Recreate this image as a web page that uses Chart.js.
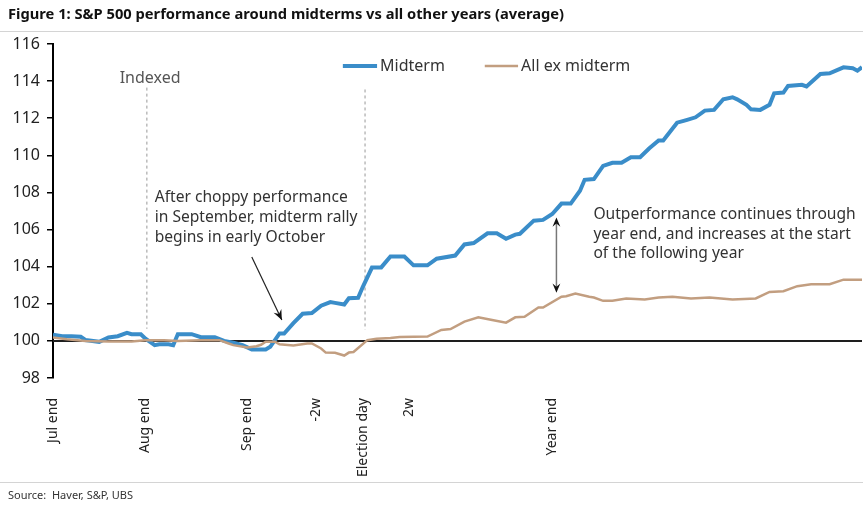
<!DOCTYPE html>
<html>
<head>
<meta charset="utf-8">
<script src="https://cdn.jsdelivr.net/npm/chart.js@4.4.1/dist/chart.umd.min.js"></script>
<style>
  body { margin: 0; background: #fff; font-family: "Noto Sans", sans-serif; }
  #wrap { position: relative; width: 863px; height: 514px; overflow: hidden; }
  #title { position: absolute; left: 8px; top: 3px; font-weight: bold; font-size: 14.7px; color: #111; white-space: nowrap; }
  #sepTop { position: absolute; left: 0; top: 31px; width: 863px; height: 0; border-top: 1.5px solid #d4d4d4; }
  #sepBot { position: absolute; left: 0; top: 482px; width: 863px; height: 0; border-top: 1.5px solid #d4d4d4; }
  #source { position: absolute; left: 8px; top: 487px; font-size: 11px; color: #333; white-space: pre; }
  canvas { position: absolute; left: 0; top: 0; }
</style>
</head>
<body>
<div id="wrap">
  <canvas id="myChart" width="863" height="514"></canvas>
  <div id="title">Figure 1: S&amp;P 500 performance around midterms vs all other years (average)</div>
  <div id="sepTop"></div>
  <div id="sepBot"></div>
  <div id="source">Source:  Haver, S&amp;P, UBS</div>
</div>
<script>
// trading days counted from end of July
const midDays = [0,2,4,6,7,10,12,14,16,17,19,20,22,23,25,26,27,29,30,32,35,37,39,41,43,46,47,49,50,52,54,56,58,60,61,63,64,66,67,69,71,73,76,78,81,83,87,89,91,94,96,98,100,101,104,106,108,110,112,114,115,117,119,121,123,125,127,129,131,132,135,137,139,141,143,145,147,148,150,151,153,155,156,158,159,162,163,166,168,171,173,174,175];
const midValues = [100.33,100.25,100.25,100.22,100.05,99.95,100.18,100.25,100.43,100.36,100.36,100.12,99.77,99.82,99.82,99.77,100.36,100.36,100.36,100.2,100.2,100.0,99.9,99.77,99.54,99.54,99.68,100.4,100.4,100.96,101.46,101.5,101.9,102.09,102.05,101.96,102.3,102.32,102.9,103.95,103.96,104.55,104.55,104.07,104.07,104.43,104.6,105.2,105.27,105.8,105.8,105.5,105.73,105.77,106.48,106.52,106.84,107.4,107.4,108.09,108.68,108.72,109.43,109.6,109.6,109.9,109.9,110.38,110.8,110.8,111.76,111.9,112.05,112.41,112.45,113.02,113.13,113.02,112.72,112.48,112.45,112.72,113.34,113.38,113.74,113.8,113.71,114.38,114.42,114.74,114.69,114.56,114.75];

const exDays = [0,3,7,12,17,20,24,27,32,36,38,39,42,44,45,46,48,49,52,55,56,58,59,61,63,64,65,68,70,73,75,81,84,86,89,92,95,98,100,102,105,106,110,111,113,116,117,119,121,124,128,131,134,138,142,147,152,155,158,161,164,168,171,175];
const exValues = [100.18,100.09,100.0,99.97,99.97,100.04,100.04,100.0,100.04,100.04,99.86,99.77,99.64,99.71,99.79,99.96,99.96,99.82,99.75,99.86,99.86,99.59,99.37,99.36,99.21,99.37,99.4,100.04,100.12,100.16,100.21,100.23,100.59,100.64,101.04,101.27,101.13,100.98,101.27,101.3,101.8,101.8,102.38,102.41,102.55,102.38,102.34,102.16,102.16,102.29,102.23,102.34,102.38,102.29,102.34,102.23,102.29,102.64,102.68,102.95,103.05,103.05,103.3,103.3];

const tickDays = [0, 20, 42, 57, 67, 77, 108];
const tickLabels = ["Jul end", "Aug end", "Sep end", "-2w", "Election day", "2w", "Year end"];

const blue = "#3a8dc9";
const brown = "#c29e80";
const font = "Noto Sans";

// helper: data coords -> pixels
function px(chart, d, v) {
  return [chart.scales.x.getPixelForValue(d), chart.scales.y.getPixelForValue(v)];
}

function arrowHead(ctx, x1, y1, x2, y2, len) {
  const a = Math.atan2(y2 - y1, x2 - x1);
  ctx.beginPath();
  ctx.moveTo(x2, y2);
  ctx.lineTo(x2 - len * Math.cos(a - 0.4), y2 - len * Math.sin(a - 0.4));
  ctx.lineTo(x2 - len * 0.6 * Math.cos(a), y2 - len * 0.6 * Math.sin(a));
  ctx.lineTo(x2 - len * Math.cos(a + 0.4), y2 - len * Math.sin(a + 0.4));
  ctx.closePath();
  ctx.fill();
}

const notes = {
  id: "notes",
  beforeDatasetsDraw(chart) {
    const { ctx, chartArea } = chart;
    ctx.save();
    // base line at 100
    const y100 = chart.scales.y.getPixelForValue(100);
    ctx.strokeStyle = "#1e1e1e";
    ctx.lineWidth = 2;
    ctx.beginPath();
    ctx.moveTo(chartArea.left, y100);
    ctx.lineTo(chartArea.right, y100);
    ctx.stroke();
    // dotted markers
    ctx.setLineDash([3, 3]);
    ctx.strokeStyle = "#aaa";
    ctx.lineWidth = 1.2;
    [[20.3, 113.65, 100.65], [67.5, 113.55, 100.6]].forEach(m => {
      const [x, y1] = px(chart, m[0], m[1]);
      const y2 = chart.scales.y.getPixelForValue(m[2]);
      ctx.beginPath();
      ctx.moveTo(x, y1);
      ctx.lineTo(x, y2);
      ctx.stroke();
    });
    ctx.restore();
  },
  afterDatasetsDraw(chart) {
    const { ctx } = chart;
    ctx.save();
    ctx.font = "16px '" + font + "'";
    ctx.textBaseline = "middle";

    // "Indexed"
    ctx.fillStyle = "#555";
    ctx.textAlign = "center";
    let [x, y] = px(chart, 21, 114.17);
    ctx.fillText("Indexed", x, y);

    // notes
    ctx.font = "15.6px '" + font + "'";
    ctx.fillStyle = "#333";
    ctx.textAlign = "left";
    [x, y] = px(chart, 22, 107.7);
    ["After choppy performance", "in September, midterm rally", "begins in early October"]
      .forEach((t, i) => ctx.fillText(t, x, y + i * 20));
    [x, y] = px(chart, 116.9, 106.8);
    ["Outperformance continues through", "year end, and increases at the start", "of the following year"]
      .forEach((t, i) => ctx.fillText(t, x, y + i * 19.5));

    // arrow to October rally
    ctx.strokeStyle = "#222";
    ctx.fillStyle = "#111";
    ctx.lineWidth = 1.2;
    const [ax1, ay1] = px(chart, 43, 104.52);
    const [ax2, ay2] = px(chart, 49.5, 101.13);
    ctx.beginPath();
    ctx.moveTo(ax1, ay1);
    ctx.lineTo(ax2, ay2);
    ctx.stroke();
    arrowHead(ctx, ax1, ay1, ax2, ay2, 11);

    // double arrow at year end
    const [bx, by1] = px(chart, 108.9, 106.65);
    const by2 = chart.scales.y.getPixelForValue(102.6);
    ctx.strokeStyle = "#777";
    ctx.lineWidth = 1.5;
    ctx.beginPath();
    ctx.moveTo(bx, by1 + 4);
    ctx.lineTo(bx, by2 - 4);
    ctx.stroke();
    arrowHead(ctx, bx, by2, bx, by1, 10);
    arrowHead(ctx, bx, by1, bx, by2, 10);

    // legend
    ctx.font = "16px '" + font + "'";
    ctx.lineWidth = 4;
    ctx.strokeStyle = blue;
    let [lx1, ly] = px(chart, 62.7, 114.81);
    let [lx2] = px(chart, 70.1, 114.81);
    ctx.beginPath(); ctx.moveTo(lx1, ly); ctx.lineTo(lx2, ly); ctx.stroke();
    ctx.fillStyle = "#333";
    ctx.fillText("Midterm", lx2 + 3, ly);
    ctx.lineWidth = 2.5;
    ctx.strokeStyle = brown;
    [lx1] = px(chart, 93.4, 114.81);
    [lx2] = px(chart, 100.6, 114.81);
    ctx.beginPath(); ctx.moveTo(lx1, ly); ctx.lineTo(lx2, ly); ctx.stroke();
    ctx.fillText("All ex midterm", lx2 + 3, ly);
    ctx.restore();
  }
};

new Chart("myChart", {
  type: "line",
  data: {
    datasets: [{
      label: "All ex midterm",
      data: exDays.map((d, i) => ({ x: d, y: exValues[i] })),
      borderColor: brown,
      borderWidth: 2.5,
      pointRadius: 0,
      tension: 0
    }, {
      label: "Midterm",
      data: midDays.map((d, i) => ({ x: d, y: midValues[i] })),
      borderColor: blue,
      borderWidth: 4,
      pointRadius: 0,
      tension: 0
    }]
  },
  options: {
    responsive: false,
    animation: false,
    layout: { padding: { top: 44, right: 1, left: 0, bottom: 0 } },
    plugins: { legend: { display: false }, tooltip: { enabled: false } },
    scales: {
      x: {
        type: "linear",
        min: 0,
        max: 175,
        grid: { display: false },
        border: { display: false },
        afterBuildTicks: s => { s.ticks = tickDays.map(v => ({ value: v })); },
        afterFit: s => { s.height = 136; },
        ticks: {
          autoSkip: false,
          minRotation: 90,
          maxRotation: 90,
          padding: 12,
          color: "#222",
          font: { family: font, size: 14 },
          callback: (v, i) => tickLabels[i]
        }
      },
      y: {
        min: 98,
        max: 116,
        grid: { display: true, drawOnChartArea: false, drawTicks: true, tickLength: 6, color: "#000", lineWidth: 1.5 },
        border: { display: true, color: "#000", width: 2 },
        afterFit: s => { s.width = 53; },
        ticks: {
          stepSize: 2,
          padding: 7,
          color: "#222",
          font: { family: font, size: 16 }
        }
      }
    }
  },
  plugins: [notes]
});
</script>
</body>
</html>
